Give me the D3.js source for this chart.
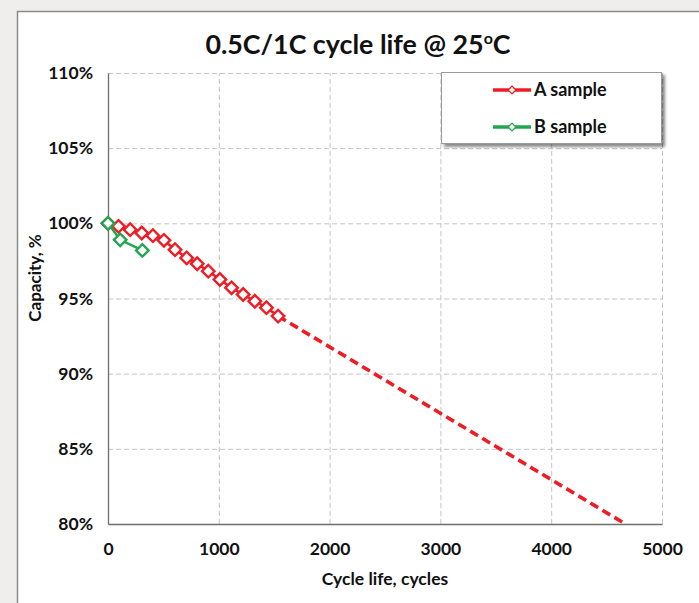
<!DOCTYPE html>
<html><head><meta charset="utf-8">
<script src="https://cdn.jsdelivr.net/npm/d3@7"></script>
<style>
html,body{margin:0;padding:0;background:#efeeec;}
svg{display:block;font-family:Lato,"Open Sans",sans-serif;font-weight:bold;}
</style></head><body>
<svg id="chart" width="699" height="603"></svg>
<script>
// ---- data ----
const cyclesA = [0, 95, 200, 305, 405, 505, 605, 710, 805, 905, 1010, 1115, 1220, 1325, 1430, 1535];
const capacityA = [100, 99.8, 99.58, 99.36, 99.18, 98.87, 98.25, 97.7, 97.31, 96.82, 96.26, 95.71, 95.27, 94.82, 94.39, 93.83];
const trendCyclesA = [1535, 4670];
const trendCapacityA = [93.83, 80];
const cyclesB = [0, 110, 310];
const capacityB = [100, 98.9, 98.2];
const xTicks = [0, 1000, 2000, 3000, 4000, 5000];
const yTicks = [80, 85, 90, 95, 100, 105, 110];
const seriesNames = ["A sample", "B sample"];
const titleMain = "0.5C/1C cycle life @ 25";
const titleSup = "o";
const titleEnd = "C";
const xTitle = "Cycle life, cycles";
const yTitle = "Capacity, %";

// ---- layout ----
const W = 699, H = 603;
const plot = {l: 108, r: 662, t: 73, b: 524};
const red = "#ee1c24", green = "#20a64e";

const svg = d3.select("#chart");
const defs = svg.append("defs");
const f = defs.append("filter").attr("id","shadow").attr("x","-10%").attr("y","-10%").attr("width","130%").attr("height","140%");
f.append("feDropShadow").attr("dx",3).attr("dy",3).attr("stdDeviation",1.5).attr("flood-color","#000").attr("flood-opacity",0.45);

// panel
svg.append("rect").attr("x",17.5).attr("y",11.5).attr("width",W).attr("height",H)
  .attr("fill","#fff").attr("stroke","#8a8a8a").attr("stroke-width",1.5);

const x = d3.scaleLinear().domain([0,5000]).range([plot.l, plot.r]);
const y = d3.scaleLinear().domain([80,110]).range([plot.b, plot.t]);

// grid
const gx = svg.append("g").attr("transform",`translate(0,${plot.b})`)
  .call(d3.axisBottom(x).tickValues(xTicks.filter(v=>v>0)).tickSize(-(plot.b-plot.t)).tickFormat(""));
gx.select(".domain").remove();
gx.selectAll("line").attr("stroke","#c4c4c4").attr("stroke-dasharray","5,3").attr("stroke-width",1);
const gy = svg.append("g").attr("transform",`translate(${plot.l},0)`)
  .call(d3.axisLeft(y).tickValues(yTicks.filter(v=>v>80)).tickSize(-(plot.r-plot.l)).tickFormat(""));
gy.select(".domain").remove();
gy.selectAll("line").attr("stroke","#c4c4c4").attr("stroke-dasharray","5,3").attr("stroke-width",1);

// axes
const ax = svg.append("g").attr("transform",`translate(0,${plot.b})`)
  .call(d3.axisBottom(x).tickValues(xTicks).tickSize(0).tickPadding(19).tickFormat(d3.format("d")));
ax.select(".domain").attr("stroke","#6e6e6e").attr("stroke-width",1.3);
ax.selectAll("text").attr("font-family","Lato").attr("font-weight","bold").attr("font-size",17.5).attr("fill","#111");
const ay = svg.append("g").attr("transform",`translate(${plot.l},0)`)
  .call(d3.axisLeft(y).tickValues(yTicks).tickSize(0).tickPadding(15).tickFormat(d=>d+"%"));
ay.select(".domain").attr("stroke","#6e6e6e").attr("stroke-width",1.3);
ay.selectAll("text").attr("font-family","Lato").attr("font-weight","bold").attr("font-size",17.5).attr("fill","#111");

// title
const t = svg.append("text").attr("x",358).attr("y",54).attr("text-anchor","middle")
  .attr("font-size",26.8).attr("fill","#111");
t.append("tspan").text(titleMain);
t.append("tspan").attr("font-size",16).attr("dy",-10).text(titleSup);
t.append("tspan").attr("dy",10).text(titleEnd);

svg.append("text").attr("x",385).attr("y",585).attr("text-anchor","middle")
  .attr("font-size",17.5).attr("fill","#111").text(xTitle);
svg.append("text").attr("transform","translate(41,278) rotate(-90)").attr("text-anchor","middle")
  .attr("font-size",17).attr("fill","#111").text(yTitle);

// series
const line = d3.line().x(d=>x(d[0])).y(d=>y(d[1]));
const diamond = d3.symbol().type(d3.symbolSquare).size(78);

const ptsA = cyclesA.map((c,i)=>[c,capacityA[i]]);
const ptsT = trendCyclesA.map((c,i)=>[c,trendCapacityA[i]]);
const ptsB = cyclesB.map((c,i)=>[c,capacityB[i]]);

svg.append("path").datum(ptsT).attr("d",line).attr("fill","none").attr("stroke",red)
  .attr("stroke-width",3.6).attr("stroke-dasharray","9,5");
svg.append("path").datum(ptsA).attr("d",line).attr("fill","none").attr("stroke",red).attr("stroke-width",2.5);
svg.append("g").selectAll("path").data(ptsA).join("path")
  .attr("d",diamond).attr("transform",d=>`translate(${x(d[0])},${y(d[1])}) rotate(45)`)
  .attr("fill","#fff").attr("stroke",red).attr("stroke-width",2.4);

svg.append("path").datum(ptsB).attr("d",line).attr("fill","none").attr("stroke",green).attr("stroke-width",2.5);
svg.append("g").selectAll("path").data(ptsB).join("path")
  .attr("d",diamond).attr("transform",d=>`translate(${x(d[0])},${y(d[1])}) rotate(45)`)
  .attr("fill","#fff").attr("stroke",green).attr("stroke-width",2.4);

// legend
const lg = svg.append("g");
lg.append("rect").attr("x",441.5).attr("y",72.5).attr("width",220).attr("height",71)
  .attr("fill","#fff").attr("stroke","#9a9a9a").attr("stroke-width",1).attr("filter","url(#shadow)");
const legendDiamond = d3.symbol().type(d3.symbolSquare).size(30);
[[seriesNames[0],red,90],[seriesNames[1],green,127]].forEach(([name,col,ly])=>{
  lg.append("line").attr("x1",493).attr("x2",531).attr("y1",ly).attr("y2",ly).attr("stroke",col).attr("stroke-width",3.5);
  lg.append("path").attr("d",legendDiamond).attr("transform",`translate(512,${ly}) rotate(45)`)
    .attr("fill","#fff").attr("stroke",col).attr("stroke-width",1.3);
  lg.append("text").attr("x",534).attr("y",ly+6).attr("font-size",18).attr("fill","#111").text(name);
});
</script>
</body></html>
